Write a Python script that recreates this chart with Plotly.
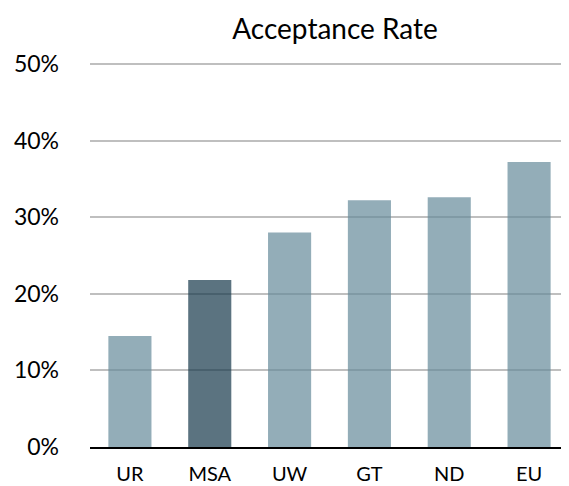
import plotly.graph_objects as go

categories = ["UR", "MSA", "UW", "GT", "ND", "EU"]
rates = [0.145, 0.218, 0.280, 0.322, 0.326, 0.372]
highlight = "MSA"
tick_vals = [0, 0.1, 0.2, 0.3, 0.4, 0.5]
tick_text = ["0%", "10%", "20%", "30%", "40%", "50%"]

base_color = "rgb(101,138,154)"
hi_color = "rgb(21,55,74)"
colors = [hi_color if c == highlight else base_color for c in categories]

fig = go.Figure(go.Bar(
    x=categories, y=rates,
    marker=dict(color=colors, opacity=0.7, line=dict(width=0)),
    hoverinfo="skip",
))

fig.update_layout(
    width=561, height=478,
    margin=dict(l=82, r=0, t=54, b=39, autoexpand=False),
    paper_bgcolor="white", plot_bgcolor="white",
    font=dict(family="Lato", color="black", size=20),
    title=dict(text="Acceptance Rate", x=0.583, xanchor="center", y=0.955, yanchor="middle",
               font=dict(size=28, family="Lato", color="black")),
    bargap=0.46,
    showlegend=False,
)
fig.update_xaxes(showline=True, linecolor="black", linewidth=2, showgrid=False,
                 ticks="", ticklabelstandoff=8, tickfont=dict(size=20), automargin=False)
fig.update_yaxes(range=[0, 0.5025], tickvals=tick_vals, ticktext=tick_text,
                 showgrid=True, gridcolor="#bfbfbf", gridwidth=2, zeroline=False,
                 showline=False, ticks="", ticklabelstandoff=30, tickfont=dict(size=23),
                 automargin=False)

fig.write_html("out.html")
